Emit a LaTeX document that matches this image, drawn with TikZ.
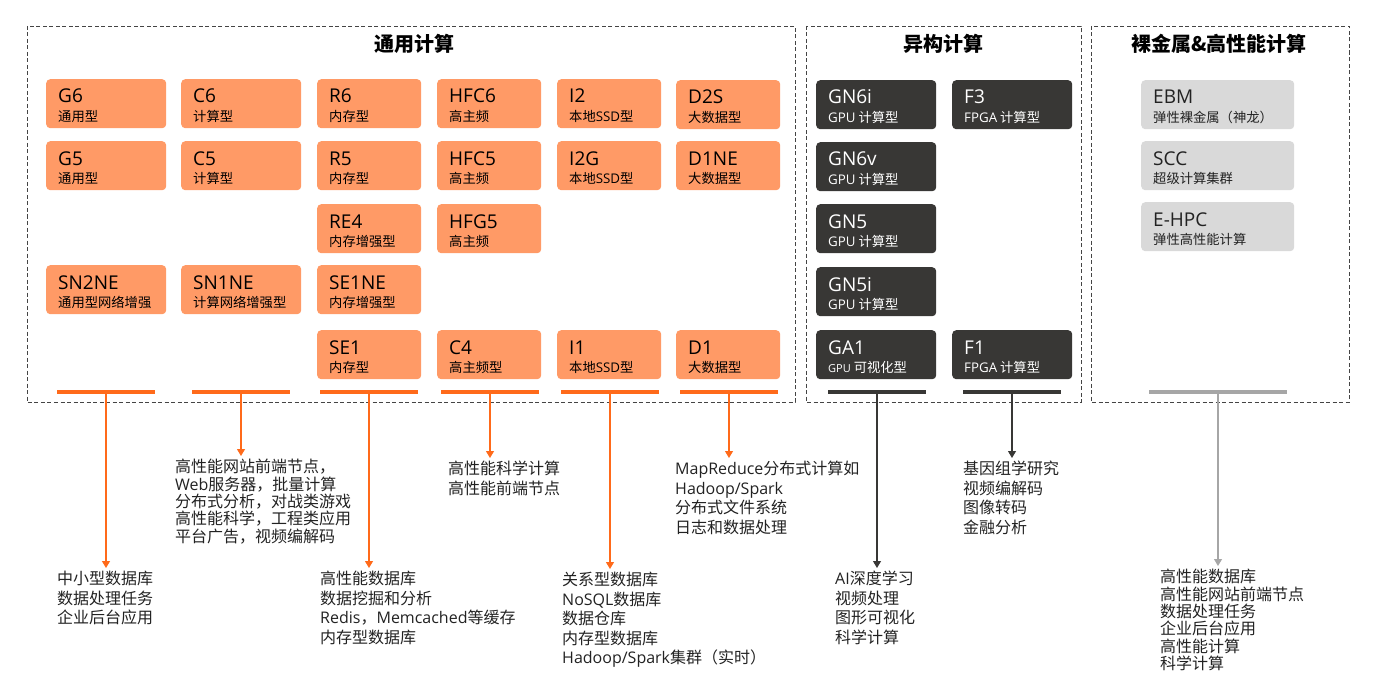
\documentclass[tikz,border=0pt]{standalone}
\usepackage{fontspec}
\setmainfont{Noto Sans CJK SC}
\newfontfamily\lat{Open Sans}
\usetikzlibrary{arrows.meta}

\definecolor{boxorange}{HTML}{FF9A66}
\definecolor{barorange}{HTML}{FF6A1A}
\definecolor{boxdark}{HTML}{383735}
\definecolor{boxgray}{HTML}{D9D9D9}
\definecolor{bargray}{HTML}{A6A6A6}
\definecolor{framegray}{HTML}{444444}
\definecolor{textdark}{HTML}{222222}

% box with model name and type
\newcommand{\vmbox}[7]{%
  \node[#1] (#3) at (#4,#5) {};
  \node[vmtitle, text=#2] (#3-t) at ([shift={(12pt,-24pt)}]#3.north west) {#6};
  \node[vmsub, text=#2] (#3-s) at ([shift={(12pt,-42.5pt)}]#3.north west) {#7};
}

\begin{document}
\begin{tikzpicture}[x=1pt,y=-1pt,
    frame/.style={draw=framegray, dash pattern=on 4pt off 2.5pt, line width=0.8pt},
    grouptitle/.style={font=\bfseries\fontsize{20}{20}\selectfont, text=black},
    obox/.style={fill=boxorange, rounded corners=4pt, anchor=north west, inner sep=0,
      minimum width=120pt, minimum height=49pt},
    onarrow/.style={obox, minimum width=104pt},
    dbox/.style={obox, fill=boxdark},
    gbox/.style={obox, fill=boxgray, minimum width=153pt},
    vmtitle/.style={anchor=base west, inner sep=0, font=\lat\fontsize{19}{19}\selectfont},
    vmsub/.style={anchor=base west, inner sep=0, font=\fontsize{13.3}{13.3}\selectfont},
    obar/.style={fill=barorange, inner sep=0, minimum width=98pt, minimum height=3.5pt},
    dbar/.style={obar, fill=boxdark},
    gbar/.style={obar, fill=bargray, minimum width=138pt},
    oarr/.style={draw=barorange, line width=1.1pt, -{Triangle[length=7pt,width=8pt]}},
    darr/.style={oarr, draw=boxdark},
    garr/.style={oarr, draw=bargray},
    usetext/.style={anchor=north west, align=left, inner xsep=0, inner ysep=3pt,
      text=textdark, font=\fontsize{16}{19.5}\selectfont},
    tighttext/.style={usetext, font=\fontsize{16}{17.4}\selectfont}]

\useasboundingbox (0,0) rectangle (1382,690);

% frames
\draw[frame] (27,26) rectangle (795,402);
\draw[frame] (806,26) rectangle (1081,402);
\draw[frame] (1091,26) rectangle (1349,402);

\node[grouptitle] (t-gen) at (414,44) {通用计算};
\node[grouptitle] (t-het) at (943,44) {异构计算};
\node[grouptitle] (t-ebm) at (1219,44) {裸金属\&高性能计算};

% general purpose
\vmbox{obox}{black}{g6}{46}{79}{G6}{通用型}
\vmbox{obox}{black}{c6}{181}{79}{C6}{计算型}
\vmbox{onarrow}{black}{r6}{317}{79}{R6}{内存型}
\vmbox{onarrow}{black}{hfc6}{437}{79}{HFC6}{高主频}
\vmbox{onarrow}{black}{i2}{557}{79}{I2}{本地{\lat SSD}型}
\vmbox{onarrow}{black}{d2s}{676}{80}{D2S}{大数据型}

\vmbox{obox}{black}{g5}{46}{141}{G5}{通用型}
\vmbox{obox}{black}{c5}{181}{141}{C5}{计算型}
\vmbox{onarrow}{black}{r5}{317}{141}{R5}{内存型}
\vmbox{onarrow}{black}{hfc5}{437}{141}{HFC5}{高主频}
\vmbox{onarrow}{black}{i2g}{557}{141}{I2G}{本地{\lat SSD}型}
\vmbox{onarrow}{black}{d1ne}{676}{141}{D1NE}{大数据型}

\vmbox{onarrow}{black}{re4}{317}{204}{RE4}{内存增强型}
\vmbox{onarrow}{black}{hfg5}{437}{204}{HFG5}{高主频}

\vmbox{obox}{black}{sn2ne}{46}{265}{SN2NE}{通用型网络增强}
\vmbox{obox}{black}{sn1ne}{181}{265}{SN1NE}{计算网络增强型}
\vmbox{onarrow}{black}{se1ne}{317}{265}{SE1NE}{内存增强型}

\vmbox{onarrow}{black}{se1}{317}{330}{SE1}{内存型}
\vmbox{onarrow}{black}{c4}{437}{330}{C4}{高主频型}
\vmbox{onarrow}{black}{i1}{557}{330}{I1}{本地{\lat SSD}型}
\vmbox{onarrow}{black}{d1}{676}{330}{D1}{大数据型}

% heterogeneous
\vmbox{dbox}{white}{gn6i}{816}{80}{GN6i}{{\lat GPU} 计算型}
\vmbox{dbox}{white}{f3}{952}{80}{F3}{{\lat FPGA} 计算型}
\vmbox{dbox}{white}{gn6v}{816}{142}{GN6v}{{\lat GPU} 计算型}
\vmbox{dbox}{white}{gn5}{816}{204}{GN5}{{\lat GPU} 计算型}
\vmbox{dbox}{white}{gn5i}{816}{267}{GN5i}{{\lat GPU} 计算型}
\vmbox{dbox}{white}{ga1}{816}{330}{GA1}{{\lat\fontsize{11}{11}\selectfont GPU} 可视化型}
\vmbox{dbox}{white}{f1}{952}{330}{F1}{{\lat FPGA} 计算型}

% bare metal
\vmbox{gbox}{textdark}{ebm}{1141}{80}{EBM}{弹性裸金属（神龙）}
\vmbox{gbox}{textdark}{scc}{1141}{141}{SCC}{超级计算集群}
\vmbox{gbox}{textdark}{ehpc}{1141}{202}{E-HPC}{弹性高性能计算}

% bars
\node[obar] (b1) at (106,392) {};
\node[obar] (b2) at (241,392) {};
\node[obar] (b3) at (369,392) {};
\node[obar] (b4) at (490,392) {};
\node[obar] (b5) at (610,392) {};
\node[obar] (b6) at (729,392) {};
\node[dbar] (b7) at (877,392) {};
\node[dbar] (b8) at (1012,392) {};
\node[gbar] (b9) at (1218,392) {};

% use cases
\node[usetext] (u1) at (57,568) {中小型数据库\\数据处理任务\\企业后台应用};
\node[tighttext] (u2) at (175,456) {高性能网站前端节点，\\{\lat Web}服务器，批量计算\\分布式分析，对战类游戏\\高性能科学，工程类应用\\平台广告，视频编解码};
\node[usetext] (u3) at (320,568) {高性能数据库\\数据挖掘和分析\\{\lat Redis}，{\lat Memcached}等缓存\\内存型数据库};
\node[usetext] (u4) at (448,458) {高性能科学计算\\高性能前端节点};
\node[usetext] (u5) at (562,569) {关系型数据库\\{\lat NoSQL}数据库\\数据仓库\\内存型数据库\\{\lat Hadoop/Spark}集群（实时）};
\node[usetext] (u6) at (675,458) {{\lat MapReduce}分布式计算如\\{\lat Hadoop/Spark}\\分布式文件系统\\日志和数据处理};
\node[usetext] (u7) at (835,568) {{\lat AI}深度学习\\视频处理\\图形可视化\\科学计算};
\node[usetext] (u8) at (963,458) {基因组学研究\\视频编解码\\图像转码\\金融分析};
\node[tighttext] (u9) at (1160,566) {高性能数据库\\高性能网站前端节点\\数据处理任务\\企业后台应用\\高性能计算\\科学计算};

% arrows
\draw[oarr] (b1.south) -- (b1.south |- u1.north);
\draw[oarr] (b2.south) -- (b2.south |- u2.north);
\draw[oarr] (b3.south) -- (b3.south |- u3.north);
\draw[oarr] (b4.south) -- (b4.south |- u4.north);
\draw[oarr] (b5.south) -- (b5.south |- u5.north);
\draw[oarr] (b6.south) -- (b6.south |- u6.north);
\draw[darr] (b7.south) -- (b7.south |- u7.north);
\draw[darr] (b8.south) -- (b8.south |- u8.north);
\draw[garr] (b9.south) -- (b9.south |- u9.north);
\end{tikzpicture}
\end{document}
